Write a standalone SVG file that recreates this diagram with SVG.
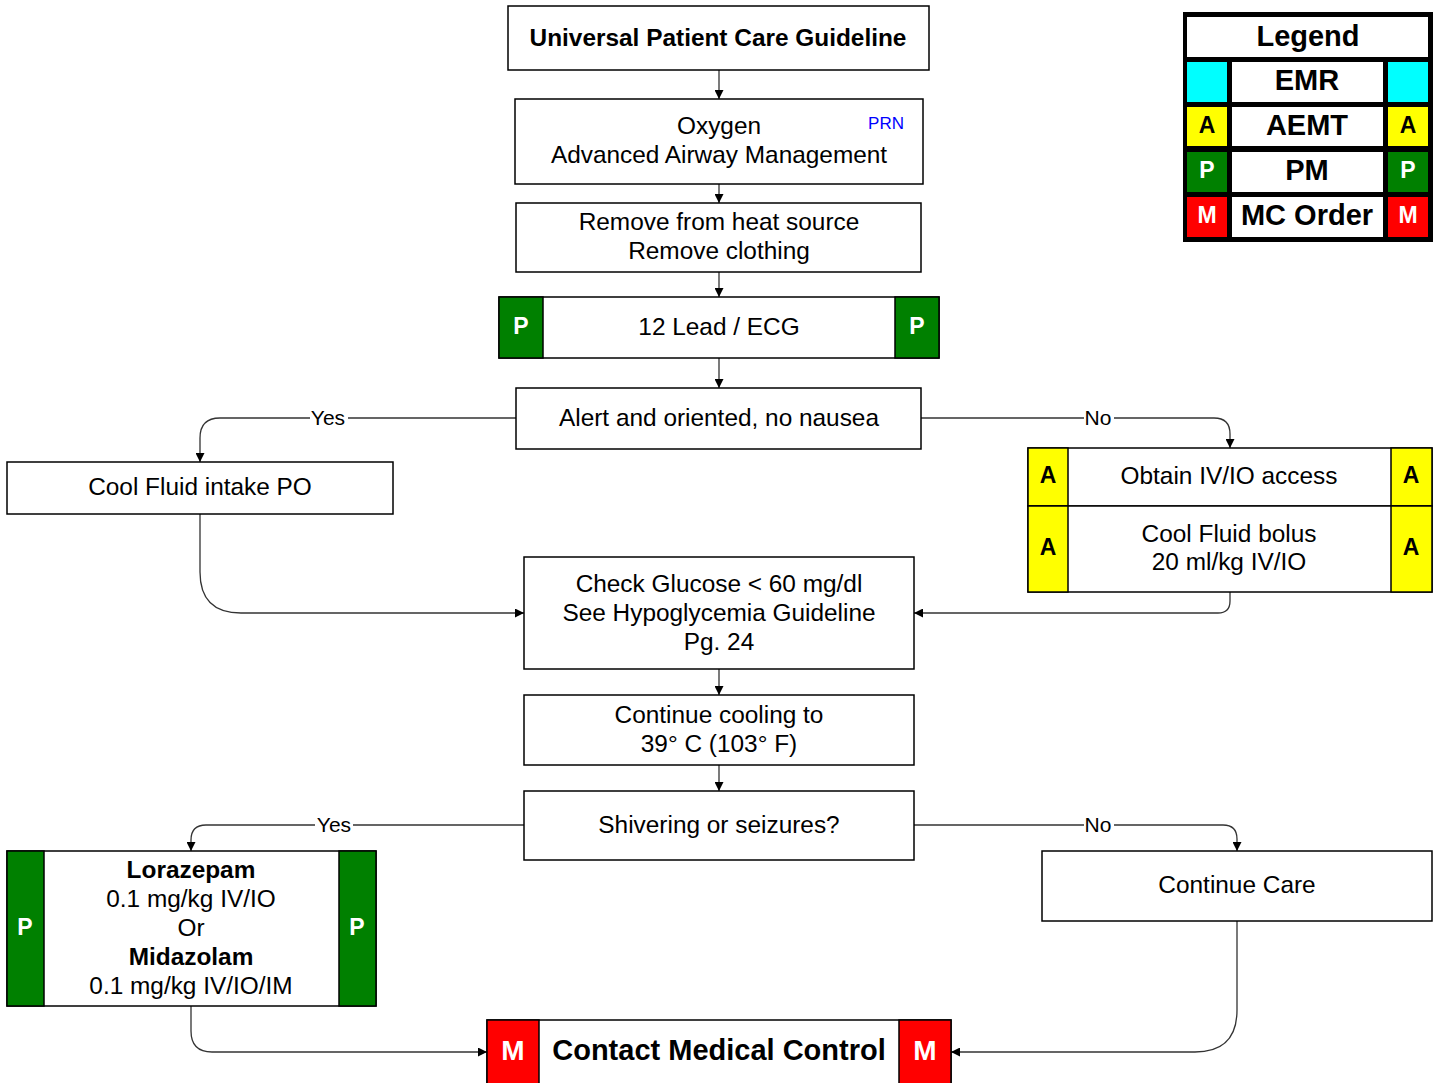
<svg xmlns="http://www.w3.org/2000/svg" width="1435" height="1083" viewBox="0 0 1435 1083">
<style>
text{font-family:"Liberation Sans",Arial,sans-serif;text-anchor:middle;dominant-baseline:central;fill:#000}
.t{font-size:24.4px}
.b{font-weight:bold}
.box{fill:#fff;stroke:#000;stroke-width:1.5}
.g{fill:#008000;stroke:#000;stroke-width:1.5}
.y{fill:#ffff00;stroke:#000;stroke-width:1.5}
.r{fill:#ff0000;stroke:#000;stroke-width:1.5}
.c{fill:#00ffff}
.wl{fill:#fff;font-weight:bold;font-size:23px}
.bl{fill:#000;font-weight:bold;font-size:23px}
.lg{font-size:29px;font-weight:bold}
.conn path{fill:none;stroke:#333;stroke-width:1.3}
.lbl{font-size:21px}
</style>
<defs>
<marker id="ah" viewBox="0 0 10 10" refX="10" refY="5" markerWidth="9" markerHeight="9" markerUnits="userSpaceOnUse" orient="auto">
<path d="M0,0 L10,5 L0,10 z" fill="#000"/>
</marker>
</defs>

<g class="conn">
<path d="M719,70 V99" marker-end="url(#ah)"/>
<path d="M719,184 V203" marker-end="url(#ah)"/>
<path d="M719,272 V297" marker-end="url(#ah)"/>
<path d="M719,358 V388" marker-end="url(#ah)"/>
<path d="M516,418 H220 Q200,418 200,438 V462" marker-end="url(#ah)"/>
<path d="M921,418 H1214 Q1230,418 1230,434 V448" marker-end="url(#ah)"/>
<path d="M200,514 V572 Q200,613 241,613 H524" marker-end="url(#ah)"/>
<path d="M1230,592 V601 Q1230,613 1218,613 H914" marker-end="url(#ah)"/>
<path d="M719,669 V695" marker-end="url(#ah)"/>
<path d="M719,765 V791" marker-end="url(#ah)"/>
<path d="M524,825 H206 Q191,825 191,840 V851" marker-end="url(#ah)"/>
<path d="M914,825 H1223 Q1237,825 1237,839 V851" marker-end="url(#ah)"/>
<path d="M191,1006 V1031 Q191,1052 212,1052 H487" marker-end="url(#ah)"/>
<path d="M1237,921 V1010 Q1237,1052 1195,1052 H951" marker-end="url(#ah)"/>
<rect x="310" y="406" width="38" height="24" fill="#fff"/>
<text class="lbl" x="328" y="417">Yes</text>
<rect x="1084" y="406" width="30" height="24" fill="#fff"/>
<text class="lbl" x="1098" y="417">No</text>
<rect x="315" y="813" width="38" height="24" fill="#fff"/>
<text class="lbl" x="334" y="824">Yes</text>
<rect x="1084" y="813" width="30" height="24" fill="#fff"/>
<text class="lbl" x="1098" y="824">No</text>
</g>

<g id="legend">
<rect x="1183" y="12" width="250" height="230" fill="#000"/>
<rect x="1187" y="17" width="241" height="40" fill="#fff"/>
<text class="lg" x="1308" y="36">Legend</text>
<rect class="c" x="1187" y="62" width="40" height="40"/>
<rect x="1232" y="62" width="151" height="40" fill="#fff"/>
<rect class="c" x="1388" y="62" width="40" height="40"/>
<text class="lg" x="1307" y="80">EMR</text>
<rect x="1187" y="107" width="40" height="39" fill="#ffff00"/>
<rect x="1232" y="107" width="151" height="39" fill="#fff"/>
<rect x="1388" y="107" width="40" height="39" fill="#ffff00"/>
<text class="bl" x="1207" y="125">A</text>
<text class="lg" x="1307" y="125">AEMT</text>
<text class="bl" x="1408" y="125">A</text>
<rect x="1187" y="152" width="40" height="40" fill="#008000"/>
<rect x="1232" y="152" width="151" height="40" fill="#fff"/>
<rect x="1388" y="152" width="40" height="40" fill="#008000"/>
<text class="wl" x="1207" y="170">P</text>
<text class="lg" x="1307" y="170">PM</text>
<text class="wl" x="1408" y="170">P</text>
<rect x="1187" y="197" width="40" height="40" fill="#ff0000"/>
<rect x="1232" y="197" width="151" height="40" fill="#fff"/>
<rect x="1388" y="197" width="40" height="40" fill="#ff0000"/>
<text class="wl" x="1207" y="215">M</text>
<text class="lg" x="1307" y="215">MC Order</text>
<text class="wl" x="1408" y="215">M</text>
</g>

<g id="n1">
<rect class="box" x="508" y="6" width="421" height="64"/>
<text class="t b" x="718" y="37">Universal Patient Care Guideline</text>
</g>

<g id="n2">
<rect class="box" x="515" y="99" width="408" height="85"/>
<text class="t" x="719" y="125">Oxygen</text>
<text class="t" x="719" y="154">Advanced Airway Management</text>
<text x="886" y="123" style="font-size:17px;fill:#0000ff">PRN</text>
</g>

<g id="n3">
<rect class="box" x="516" y="203" width="405" height="69"/>
<text class="t" x="719" y="221">Remove from heat source</text>
<text class="t" x="719" y="250">Remove clothing</text>
</g>

<g id="n4">
<rect class="box" x="499" y="297" width="440" height="61"/>
<rect class="g" x="499" y="297" width="44" height="61"/>
<rect class="g" x="895" y="297" width="44" height="61"/>
<text class="wl" x="521" y="326">P</text>
<text class="wl" x="917" y="326">P</text>
<text class="t" x="719" y="326">12 Lead / ECG</text>
</g>

<g id="n5">
<rect class="box" x="516" y="388" width="405" height="61"/>
<text class="t" x="719" y="417">Alert and oriented, no nausea</text>
</g>

<g id="n6">
<rect class="box" x="7" y="462" width="386" height="52"/>
<text class="t" x="200" y="486">Cool Fluid intake PO</text>
</g>

<g id="n7">
<rect class="box" x="1028" y="448" width="404" height="58"/>
<rect class="y" x="1028" y="448" width="40" height="58"/>
<rect class="y" x="1391" y="448" width="41" height="58"/>
<text class="bl" x="1048" y="475">A</text>
<text class="bl" x="1411" y="475">A</text>
<text class="t" x="1229" y="475">Obtain IV/IO access</text>
</g>

<g id="n8">
<rect class="box" x="1028" y="506" width="404" height="86"/>
<rect class="y" x="1028" y="506" width="40" height="86"/>
<rect class="y" x="1391" y="506" width="41" height="86"/>
<text class="bl" x="1048" y="547">A</text>
<text class="bl" x="1411" y="547">A</text>
<text class="t" x="1229" y="533">Cool Fluid bolus</text>
<text class="t" x="1229" y="561">20 ml/kg IV/IO</text>
</g>

<g id="n9">
<rect class="box" x="524" y="557" width="390" height="112"/>
<text class="t" x="719" y="583">Check Glucose &lt; 60 mg/dl</text>
<text class="t" x="719" y="612">See Hypoglycemia Guideline</text>
<text class="t" x="719" y="641">Pg. 24</text>
</g>

<g id="n10">
<rect class="box" x="524" y="695" width="390" height="70"/>
<text class="t" x="719" y="714">Continue cooling to</text>
<text class="t" x="719" y="743">39° C (103° F)</text>
</g>

<g id="n11">
<rect class="box" x="524" y="791" width="390" height="69"/>
<text class="t" x="719" y="824">Shivering or seizures?</text>
</g>

<g id="n12">
<rect class="box" x="7" y="851" width="369" height="155"/>
<rect class="g" x="7" y="851" width="37" height="155"/>
<rect class="g" x="339" y="851" width="37" height="155"/>
<text class="wl" x="25" y="927">P</text>
<text class="wl" x="357" y="927">P</text>
<text class="t b" x="191" y="869">Lorazepam</text>
<text class="t" x="191" y="898">0.1 mg/kg IV/IO</text>
<text class="t" x="191" y="927">Or</text>
<text class="t b" x="191" y="956">Midazolam</text>
<text class="t" x="191" y="985">0.1 mg/kg IV/IO/IM</text>
</g>

<g id="n13">
<rect class="box" x="1042" y="851" width="390" height="70"/>
<text class="t" x="1237" y="884">Continue Care</text>
</g>

<g id="n14">
<rect class="box" x="487" y="1020" width="464" height="70"/>
<rect class="r" x="487" y="1020" width="52" height="70"/>
<rect class="r" x="899" y="1020" width="52" height="70"/>
<text class="wl" x="513" y="1050" style="font-size:28px">M</text>
<text class="wl" x="925" y="1050" style="font-size:28px">M</text>
<text class="b" x="719" y="1050" style="font-size:29px">Contact Medical Control</text>
</g>
</svg>
